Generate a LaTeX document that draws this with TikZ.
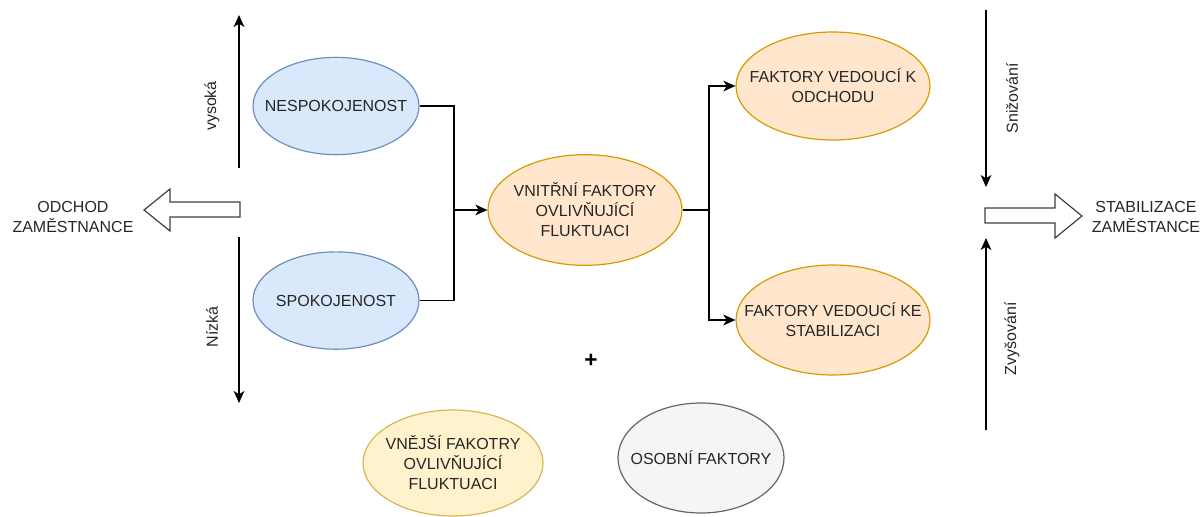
\documentclass[tikz,border=0pt]{standalone}
\usepackage{fontspec}
\setmainfont{Liberation Sans}
\usetikzlibrary{arrows.meta,positioning,shapes.geometric}
\definecolor{fillblue}{HTML}{DAE8FC}
\definecolor{lineblue}{HTML}{6C8EBF}
\definecolor{fillorange}{HTML}{FFE6CC}
\definecolor{lineorange}{HTML}{D79B00}
\definecolor{fillyellow}{HTML}{FFF2CC}
\definecolor{lineyellow}{HTML}{D6B656}
\definecolor{fillgrey}{HTML}{F5F5F5}
\definecolor{linegrey}{HTML}{666666}
\tikzstyle{ell}=[ellipse,inner xsep=-80pt,inner ysep=-40pt,align=center,text=black!85,
                 font=\fontsize{12}{15}\selectfont,line width=0.9pt]
\tikzstyle{blueell}=[ell,draw=lineblue,fill=fillblue,minimum width=124.5pt,minimum height=73pt]
\tikzstyle{orangeell}=[ell,draw=lineorange,fill=fillorange,minimum width=145.5pt,minimum height=83pt]
\tikzstyle{lbl}=[align=center,text=black!85,font=\fontsize{12}{15}\selectfont]
\tikzstyle{vlbl}=[lbl,rotate=90]
\tikzstyle{arrow}=[-{Stealth[length=9pt,width=8pt,inset=2.5pt]},line width=0.9pt]
\tikzstyle{fatarrow}=[draw=black!75,fill=white,line width=0.9pt,line join=miter]

\begin{document}
\begin{tikzpicture}[x=0.75pt,y=-0.75pt]
      \useasboundingbox (0,0) rectangle (1203,517);
      % satisfaction side
      \node[blueell] (nesp) at (336,106) {NESPOKOJENOST};
      \node[blueell,below=72pt of nesp] (spok) {SPOKOJENOST};
      \node[orangeell] (vnitrni) at (585,210) {VNITŘNÍ FAKTORY\\OVLIVŇUJÍCÍ\\FLUKTUACI};
      \node[orangeell,minimum height=81pt] (kodchodu) at (833,86) {FAKTORY VEDOUCÍ K\\ODCHODU};
      \node[orangeell,minimum height=82.5pt] (kestab) at (833,320) {FAKTORY VEDOUCÍ KE\\STABILIZACI};
      \node[lbl,text=black,font=\fontsize{17}{17}\selectfont\bfseries] (plus) at (591,361) {+};
      \node[ell,draw=lineyellow,fill=fillyellow,minimum width=135pt,minimum height=79.5pt] (vnejsi) at (453,463) {VNĚJŠÍ FAKOTRY\\OVLIVŇUJÍCÍ\\FLUKTUACI};
      \node[ell,draw=linegrey,fill=fillgrey,minimum width=124.5pt,minimum height=82.5pt] (osobni) at (701,458) {OSOBNÍ FAKTORY};
      % joins
      \coordinate (jl) at (454,210);
      \coordinate (jr) at (709,210);
      \draw[line width=0.9pt] (nesp.east) -| (jl);
      \draw[line width=0.9pt] (spok.east) -| (jl);
      \draw[arrow] (jl) -- (vnitrni.west);
      \draw[line width=0.9pt] (vnitrni.east) -- (jr);
      \draw[arrow] (jr) |- (kodchodu.west);
      \draw[arrow] (jr) |- (kestab.west);
      % left scale
      \coordinate (vt) at (239,15);
      \coordinate (vb) at (239,168);
      \coordinate (nt) at (239,237);
      \coordinate (nb) at (239,403);
      \draw[arrow] (vb) -- (vt);
      \draw[arrow] (nt) -- (nb);
      \node[vlbl] (vysoka) at (212,106) {vysoká};
      \node[vlbl] (nizka) at (212,327) {Nízká};
      \draw[fatarrow] (240,202) -- (170,202) -- (170,189) -- (144,210) -- (170,231) -- (170,217) -- (240,217) -- cycle;
      \node[lbl] (odchod) at (73,217) {ODCHOD\\ZAMĚSTNANCE};
      % right scale
      \coordinate (st) at (986,10);
      \coordinate (sb) at (986,187);
      \coordinate (zt) at (986,238);
      \coordinate (zb) at (986,430);
      \draw[arrow] (st) -- (sb);
      \draw[arrow] (zb) -- (zt);
      \node[vlbl] (snizovani) at (1012,98) {Snižování};
      \node[vlbl] (zvysovani) at (1012,339) {Zvyšování};
      \draw[fatarrow] (985,208) -- (1055,208) -- (1055,194) -- (1082,216) -- (1055,238) -- (1055,223) -- (985,223) -- cycle;
      \node[lbl] (stabilizace) at (1146,217) {STABILIZACE\\ZAMĚSTANCE};
    \end{tikzpicture}
\end{document}
